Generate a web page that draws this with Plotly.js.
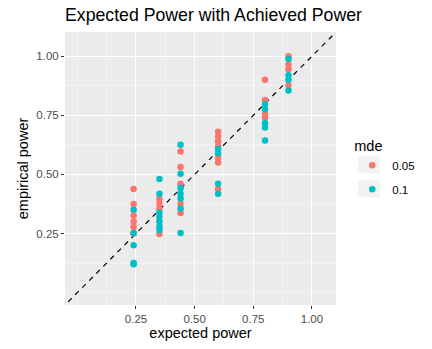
<!DOCTYPE html>
<html>
<head>
<meta charset="utf-8">
<script src="https://cdn.plot.ly/plotly-3.0.1.min.js"></script>
<style>
  html, body { margin: 0; padding: 0; background: #fff; }
  #chart { width: 432px; height: 349px; }
</style>
</head>
<body>
<div id="chart"></div>
<script>
// Expected power levels (x positions of the point columns)
const expectedPower = [0.24, 0.35, 0.44, 0.60, 0.80, 0.90];

// Empirical power per expected-power level, mde = 0.05
const empirical005 = [
    [0.438, 0.375, 0.326, 0.301, 0.277, 0.25],
    [0.396, 0.376, 0.355, 0.248],
    [0.597, 0.531, 0.46, 0.376, 0.337],
    [0.681, 0.66, 0.639, 0.618, 0.569, 0.55, 0.438],
    [0.90, 0.815, 0.755, 0.74],
    [1.0, 0.965, 0.945, 0.877]
];

// Empirical power per expected-power level, mde = 0.1
const empirical01 = [
    [0.35, 0.252, 0.20, 0.125, 0.12],
    [0.481, 0.418, 0.339, 0.32, 0.301, 0.28, 0.265],
    [0.625, 0.503, 0.442, 0.418, 0.398, 0.356, 0.252],
    [0.607, 0.59, 0.461, 0.418],
    [0.797, 0.776, 0.717, 0.698, 0.643],
    [0.988, 0.92, 0.90, 0.855]
];

const mdeLabels = ['0.05', '0.1'];
const mdeColors = ['#F8766D', '#00BFC4'];

const tickVals = [0.25, 0.5, 0.75, 1.0];
const tickText = ['0.25', '0.50', '0.75', '1.00'];
const axisRange = [-0.0525, 1.1025];

// y = x reference line
const refLine = [-1, 2];

function flatten(groups) {
    const x = [], y = [];
    groups.forEach((vals, i) => {
        vals.forEach(v => { x.push(expectedPower[i]); y.push(v); });
    });
    return { x, y };
}

const font = "'Liberation Sans', Arial, Helvetica, sans-serif";

const traces = [empirical005, empirical01].map((g, i) => {
    const d = flatten(g);
    return {
        x: d.x, y: d.y, type: 'scatter', mode: 'markers',
        name: mdeLabels[i], legendgroup: 'g' + i,
        marker: { color: mdeColors[i], size: 6.5 },
        cliponaxis: false
    };
});

traces.unshift({
    x: refLine, y: refLine, type: 'scatter', mode: 'lines',
    line: { color: '#000', width: 1.2, dash: '5px,5px' },
    showlegend: false, hoverinfo: 'skip'
});

function axis(title) {
    return {
        range: axisRange,
        tickmode: 'array', tickvals: tickVals, ticktext: tickText,
        ticks: 'outside', ticklen: 3, tickwidth: 1, tickcolor: '#333',
        tickfont: { size: 11.5, color: '#4D4D4D', family: font },
        showgrid: true, gridcolor: '#FFFFFF', gridwidth: 1,
        minor: { tick0: 0, dtick: 0.125, showgrid: true, gridcolor: '#F8F8F8', gridwidth: 0.55, ticklen: 0 },
        zeroline: false, showline: false,
        title: { text: title, font: { size: 14.5, color: '#000', family: font }, standoff: 4 }
    };
}

const layout = {
    width: 432, height: 349,
    margin: { l: 65, r: 93, t: 32, b: 44 },
    paper_bgcolor: '#fff',
    plot_bgcolor: '#EBEBEB',
    title: {
        text: 'Expected Power with Achieved Power',
        x: 0, xref: 'paper', xanchor: 'left',
        y: 1 - 15 / 349, yref: 'container', yanchor: 'middle',
        font: { size: 17.7, color: '#000', family: font }
    },
    xaxis: axis('expected power'),
    yaxis: axis('empirical power'),
    showlegend: true,
    legend: {
        x: 1.06, xanchor: 'left', y: 0.502, yanchor: 'middle',
        bgcolor: 'rgba(0,0,0,0)',
        traceorder: 'grouped', tracegroupgap: 5,
        itemwidth: 30,
        font: { size: 11.5, color: '#000', family: font },
        title: { text: 'mde', font: { size: 14.5, color: '#000', family: font } }
    },
    shapes: [0, 1].map(i => ({
        type: 'rect', xref: 'paper', yref: 'paper', layer: 'below',
        x0: 1.082, x1: 1.162,
        y0: 0.4817 - i * 0.0879, y1: 0.544 - i * 0.0879,
        fillcolor: '#F2F2F2', line: { width: 0 }
    }))
};

Plotly.newPlot('chart', traces, layout, { displayModeBar: false, staticPlot: true });
</script>
</body>
</html>
